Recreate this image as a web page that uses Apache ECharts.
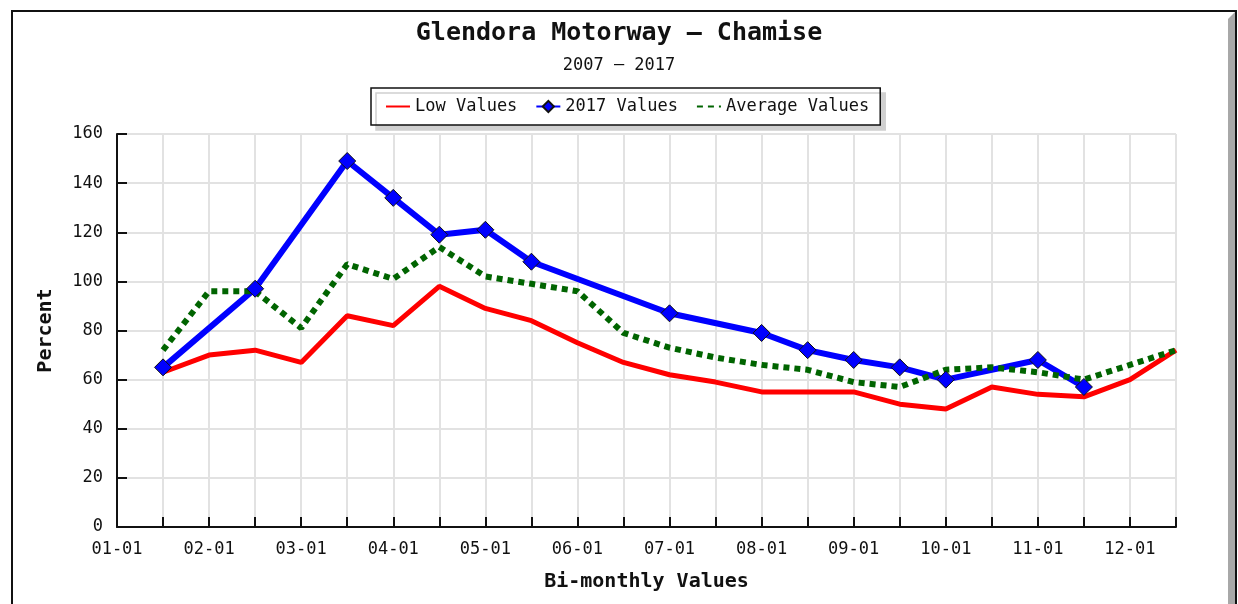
<!DOCTYPE html>
<html>
<head>
<meta charset="utf-8">
<title>Glendora Motorway - Chamise</title>
<script src="https://cdn.jsdelivr.net/npm/echarts@6/dist/echarts.min.js"></script>
<style>
  html, body {
    margin: 0;
    padding: 0;
    background: #fff;
  }
  #chart {
    width: 1238px;
    height: 604px;
  }
</style>
</head>
<body>
<div id="chart"></div>
<script>
  // bi-monthly dates (1st and 15th of each month)
  var dates = ['01-01', '01-15', '02-01', '02-15', '03-01', '03-15', '04-01', '04-15',
    '05-01', '05-15', '06-01', '06-15', '07-01', '07-15', '08-01', '08-15',
    '09-01', '09-15', '10-01', '10-15', '11-01', '11-15', '12-01', '12-15']

  var lowValues = [null, 63, 70, 72, 67, 86, 82, 98, 89, 84, 75, 67,
    62, 59, 55, 55, 55, 50, 48, 57, 54, 53, 60, 72]

  var values2017 = [null, 65, null, 97, null, 149, 134, 119, 121, 108, null, null,
    87, null, 79, 72, 68, 65, 60, null, 68, 57, null, null]

  var avgValues = [null, 72, 96, 96, 81, 107, 101, 114, 102, 99, 96, 79,
    73, 69, 66, 64, 59, 57, 64, 65, 63, 60, 66, 72]

  var yTicks = {min: 0, max: 160, step: 20}

  var FONT = '"DejaVu Sans Mono", "Liberation Mono", monospace'

  var myChart = echarts.init(document.getElementById('chart'))

  var option = {
    animation: false,
    backgroundColor: '#fff',
    graphic: [
      // outer frame
      {
        type: 'rect',
        z: -10,
        shape: {x: 12, y: 11, width: 1224, height: 700},
        style: {fill: '#fff', stroke: '#111', lineWidth: 2}
      },
      // grey shadow along the right edge
      {
        type: 'polygon',
        z: -9,
        shape: {points: [[1228, 19], [1235, 12], [1235, 604], [1228, 604]]},
        style: {fill: '#a8a8a8'}
      }
    ],
    title: [{
      text: 'Glendora Motorway \u2013 Chamise',
      left: 'center',
      top: 21,
      padding: 0,
      textStyle: {
        fontFamily: FONT,
        fontSize: 25,
        fontWeight: 'bold',
        color: '#111'
      }
    }, {
      text: '2007 \u2013 2017',
      left: 'center',
      top: 57,
      padding: 0,
      textStyle: {
        fontFamily: FONT,
        fontSize: 17,
        fontWeight: 'normal',
        color: '#111'
      }
    }],
    legend: {
      left: 371,
      top: 88,
      padding: [10, 11, 10, 14],
      itemGap: 18,
      itemWidth: 24,
      itemHeight: 14,
      borderColor: '#111',
      borderWidth: 1.5,
      backgroundColor: '#fff',
      shadowColor: '#d0d0d0',
      shadowOffsetX: 5,
      shadowOffsetY: 5,
      shadowBlur: 0,
      textStyle: {
        fontFamily: FONT,
        fontSize: 17,
        color: '#111'
      },
      data: [
        {name: 'Low Values', itemStyle: {opacity: 0}},
        {name: '2017 Values'},
        {name: 'Average Values', itemStyle: {opacity: 0}}
      ]
    },
    grid: {
      left: 117,
      right: 62,
      top: 134,
      bottom: 77,
      containLabel: false
    },
    xAxis: {
      type: 'category',
      boundaryGap: false,
      data: dates,
      name: 'Bi-monthly Values',
      nameLocation: 'middle',
      nameGap: 45,
      nameTextStyle: {
        fontFamily: FONT,
        fontSize: 20,
        fontWeight: 'bold',
        color: '#111'
      },
      axisLine: {lineStyle: {color: '#111', width: 2}},
      axisTick: {show: true, inside: true, length: 10, interval: 0, lineStyle: {color: '#111', width: 2}},
      axisLabel: {
        interval: 1,
        margin: 14,
        fontFamily: FONT,
        fontSize: 17,
        color: '#111'
      },
      splitLine: {show: true, interval: 0, lineStyle: {color: '#e2e2e2', width: 2}}
    },
    yAxis: {
      type: 'value',
      min: yTicks.min,
      max: yTicks.max,
      interval: yTicks.step,
      name: 'Percent',
      nameLocation: 'middle',
      nameGap: 61,
      nameTextStyle: {
        fontFamily: FONT,
        fontSize: 20,
        fontWeight: 'bold',
        color: '#111'
      },
      axisLine: {show: true, lineStyle: {color: '#111', width: 2}},
      axisTick: {show: true, inside: true, length: 10, lineStyle: {color: '#111', width: 2}},
      axisLabel: {
        margin: 14,
        fontFamily: FONT,
        fontSize: 17,
        color: '#111'
      },
      splitLine: {show: true, lineStyle: {color: '#e2e2e2', width: 2}}
    },
    series: [{
      name: 'Low Values',
      type: 'line',
      data: lowValues,
      symbol: 'none',
      connectNulls: true,
      lineStyle: {color: '#ff0000', width: 5},
      itemStyle: {color: '#ff0000'}
    }, {
      name: '2017 Values',
      type: 'line',
      data: values2017,
      symbol: 'diamond',
      symbolSize: 17,
      connectNulls: true,
      lineStyle: {color: '#0000ff', width: 6},
      itemStyle: {color: '#0000ff', borderColor: '#111', borderWidth: 1}
    }, {
      name: 'Average Values',
      type: 'line',
      data: avgValues,
      symbol: 'none',
      connectNulls: true,
      lineStyle: {color: '#006400', width: 6, type: [6, 5]},
      itemStyle: {color: '#006400'}
    }]
  }

  myChart.setOption(option)
</script>
</body>
</html>
